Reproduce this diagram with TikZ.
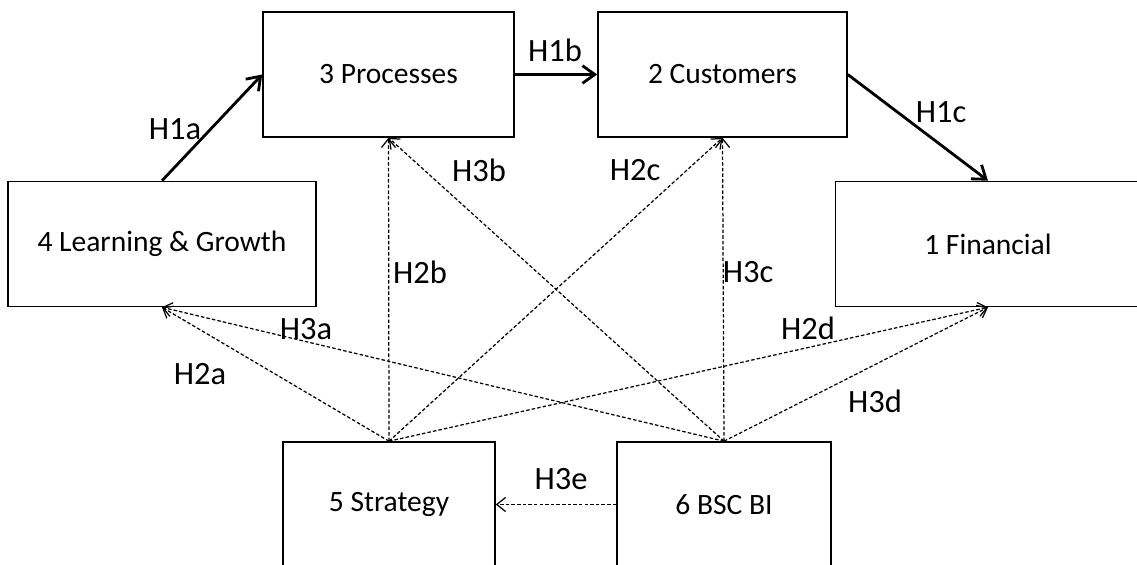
\documentclass[tikz,border=0pt]{standalone}
\usepackage{fontspec}
\setmainfont{Carlito}
\usetikzlibrary{positioning}
\usetikzlibrary{arrows.meta}

\begin{document}
\begin{tikzpicture}[
    box/.style={draw, line width=0.9pt, minimum height=2.50cm, font=\fontsize{16.8}{18}\selectfont},
    strong/.style={-{Straight Barb[length=7pt,width=10pt]}, line width=1.6pt},
    weak/.style={-{Straight Barb[length=5pt,width=8pt]}, dash pattern=on 2pt off 1.2pt, line width=0.7pt},
    hyp/.style={font=\fontsize{18.5}{20}\selectfont}
]
    \useasboundingbox (0,0) rectangle (22.74,11.30);

    % Perspectives
    \node[box, minimum width=5.02cm] (proc) at (7.77,9.81) {3 Processes};
    \node[box, minimum width=4.98cm] (cust) at (14.45,9.81) {2 Customers};
    \node[box, minimum width=6.16cm] (learn) at (3.24,6.42) {4 Learning \& Growth};
    \node[box, minimum width=6.10cm] (fin) at (19.76,6.42) {1 Financial};
    \node[box, minimum width=4.24cm] (strat) at (7.78,1.21) {5 Strategy};
    \node[box, minimum width=4.28cm] (bsc) at (14.48,1.21) {6 BSC BI};

    % Causal chain
    \draw[strong] (learn.north) -- (proc.west);
    \draw[strong] (proc.east) -- (cust.west);
    \draw[strong] (cust.east) -- (fin.north);

    % Strategy and BSC BI links
    \foreach \t in {learn,proc,cust,fin}
        \draw[weak] (strat.north) -- (\t.south);
    \foreach \t in {learn,proc,cust,fin}
        \draw[weak] (bsc.north) -- (\t.south);
    \draw[weak] (bsc.west) -- (strat.east);

    % Hypotheses
    \node[hyp] (h1a) at (3.50,8.72) {H1a};
    \node[hyp] (h1b) at (11.10,10.30) {H1b};
    \node[hyp] (h1c) at (18.82,9.06) {H1c};
    \node[hyp] (h3b) at (9.58,7.90) {H3b};
    \node[hyp] (h2c) at (12.70,7.90) {H2c};
    \node[hyp] (h2b) at (8.40,5.86) {H2b};
    \node[hyp] (h3c) at (14.96,5.86) {H3c};
    \node[hyp] (h3a) at (6.12,4.72) {H3a};
    \node[hyp] (h2d) at (16.16,4.74) {H2d};
    \node[hyp] (h2a) at (4.00,3.82) {H2a};
    \node[hyp] (h3d) at (17.50,3.28) {H3d};
    \node[hyp] (h3e) at (11.22,1.72) {H3e};
\end{tikzpicture}
\end{document}
